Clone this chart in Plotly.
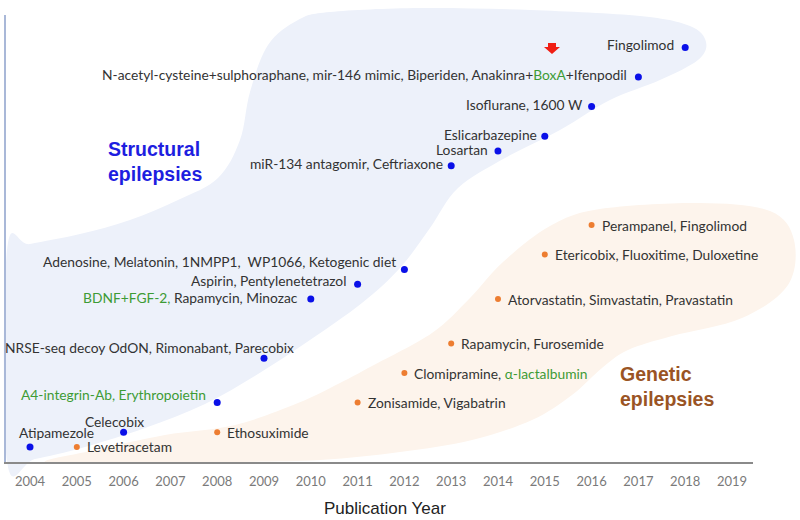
import plotly.graph_objects as go

# ---------------- data ----------------
struct_years = [2004, 2006, 2008, 2009, 2010, 2011, 2012, 2013, 2014, 2015, 2016, 2017, 2018]
struct_levels = [0, 1, 3, 6, 10, 11, 12, 19, 20, 21, 23, 25, 27]
struct_labels = [
    "Atipamezole",
    "Celecobix",
    "<span style='color:#3d9b35'>A4-integrin-Ab, Erythropoietin</span>",
    "NRSE-seq decoy OdON, Rimonabant, Parecobix",
    "<span style='color:#3d9b35'>BDNF+FGF-2,</span> Rapamycin, Minozac",
    "Aspirin, Pentylenetetrazol",
    "Adenosine, Melatonin, 1NMPP1,  WP1066, Ketogenic diet",
    "miR-134 antagomir, Ceftriaxone",
    "Losartan",
    "Eslicarbazepine",
    "Isoflurane, 1600 W",
    "N-acetyl-cysteine+sulphoraphane, mir-146 mimic, Biperiden, Anakinra+<span style='color:#3d9b35'>BoxA</span>+Ifenpodil",
    "Fingolimod",
]

genetic_years = [2005, 2008, 2011, 2012, 2013, 2014, 2015, 2016]
genetic_levels = [0, 1, 3, 5, 7, 10, 13, 15]
genetic_labels = [
    "Levetiracetam",
    "Ethosuximide",
    "Zonisamide, Vigabatrin",
    "Clomipramine, <span style='color:#3d9b35'>\u03b1-lactalbumin</span>",
    "Rapamycin, Furosemide",
    "Atorvastatin, Simvastatin, Pravastatin",
    "Etericobix, Fluoxitime, Duloxetine",
    "Perampanel, Fingolimod",
]

year_ticks = list(range(2004, 2020))

# ---------------- styles / label placement ----------------
struct_label_pos = [  # (xanchor, xshift, yshift)
    ("left", -13, 14),
    ("right", 22, 11),
    ("right", -9, 8),
    ("right", 32, 11),
    ("right", -11, 2),
    ("right", -10, 4),
    ("right", -6, 8),
    ("right", -6, 2),
    ("right", -8, 2),
    ("right", -6, 2),
    ("right", -7, 2),
    ("right", -9, 3),
    ("right", -9, 3),
]

W, H = 800, 520
L, T, R, B = 6, 15, 753, 462
PW, PH = R - L, B - T


def to_paper(px, py):
    return (px - L) / PW, (B - py) / PH


def smooth_path(pts):
    n = len(pts)
    P = [to_paper(*p) for p in pts]
    d = "M %.5f,%.5f" % P[0]
    for i in range(n):
        p0 = P[(i - 1) % n]
        p1 = P[i]
        p2 = P[(i + 1) % n]
        p3 = P[(i + 2) % n]
        c1 = (p1[0] + (p2[0] - p0[0]) / 6, p1[1] + (p2[1] - p0[1]) / 6)
        c2 = (p2[0] - (p3[0] - p1[0]) / 6, p2[1] - (p3[1] - p1[1]) / 6)
        d += " C %.5f,%.5f %.5f,%.5f %.5f,%.5f" % (c1[0], c1[1], c2[0], c2[1], p2[0], p2[1])
    return d + " Z"


blue_blob = [
    (330, 12), (420, 8), (530, 10), (640, 16), (690, 26), (706, 42), (698, 60),
    (660, 80), (610, 100), (560, 130), (505, 158), (458, 188), (430, 228),
    (400, 268), (362, 303), (310, 340), (258, 374), (205, 404), (145, 428),
    (85, 447), (35, 459), (7, 461), (7, 250), (30, 244), (80, 234), (130, 220),
    (178, 200), (218, 178), (240, 140), (250, 92), (268, 45), (298, 20),
]

peach_blob = [
    (550, 226), (600, 209), (700, 203), (770, 211), (794, 240), (788, 285),
    (742, 318), (672, 336), (628, 350), (602, 368), (572, 395), (532, 420),
    (472, 440), (400, 452), (320, 460), (220, 462), (120, 462), (45, 462),
    (95, 450), (165, 435), (235, 425), (298, 403), (340, 383), (372, 366),
    (432, 333), (470, 298), (503, 262),
]

fig = go.Figure()

fig.add_shape(type="path", xref="paper", yref="paper", path=smooth_path(blue_blob),
              fillcolor="#edf1fa", line=dict(width=0), layer="below")
fig.add_shape(type="path", xref="paper", yref="paper", path=smooth_path(peach_blob),
              fillcolor="#fdf4ec", line=dict(width=0), layer="below")

# red arrow pointing at BoxA
arrow_px = [(548, 43), (556, 43), (556, 47), (560, 47), (552, 54), (544, 47), (548, 47)]
ap = [to_paper(*p) for p in arrow_px]
arrow_path = "M " + " L ".join("%.5f,%.5f" % p for p in ap) + " Z"
fig.add_shape(type="path", xref="paper", yref="paper", path=arrow_path,
              fillcolor="#f01e14", line=dict(width=0))

fig.add_trace(go.Scatter(x=struct_years, y=struct_levels, mode="markers",
                         marker=dict(color="#0a10e8", size=7), hoverinfo="skip",
                         showlegend=False))
fig.add_trace(go.Scatter(x=genetic_years, y=genetic_levels, mode="markers",
                         marker=dict(color="#ed7d31", size=6), hoverinfo="skip",
                         showlegend=False))

label_font = dict(family="Lato, 'Open Sans', sans-serif", size=13.8, color="#333333")

for xv, yv, txt, (anc, xs, ys) in zip(struct_years, struct_levels, struct_labels, struct_label_pos):
    fig.add_annotation(x=xv, y=yv, text=txt, showarrow=False, xanchor=anc, yanchor="middle",
                       xshift=xs, yshift=ys, font=label_font)

for xv, yv, txt in zip(genetic_years, genetic_levels, genetic_labels):
    fig.add_annotation(x=xv, y=yv, text=txt, showarrow=False, xanchor="left", yanchor="middle",
                       xshift=8, yshift=0, font=label_font)

fig.add_annotation(x=2006.67, y=19.3, text="<b>Structural<br>epilepsies</b>", showarrow=False,
                   xanchor="center", yanchor="middle", align="left",
                   font=dict(family="Liberation Sans, Arial, sans-serif", size=19.5, color="#1e1ee0"))
fig.add_annotation(x=2017.61, y=4.1, text="<b>Genetic<br>epilepsies</b>", showarrow=False,
                   xanchor="center", yanchor="middle", align="left",
                   font=dict(family="Liberation Sans, Arial, sans-serif", size=19.5, color="#9a5424"))

tx, ty = to_paper(385, 508)
fig.add_annotation(x=tx, y=ty, xref="paper", yref="paper", text="Publication Year",
                   showarrow=False, xanchor="center", yanchor="middle",
                   font=dict(family="Liberation Sans, Arial, sans-serif", size=17, color="#222222"))

fig.update_xaxes(range=[2003.487, 2019.449], tickvals=year_ticks,
                 ticktext=[str(y) for y in year_ticks],
                 showgrid=False, zeroline=False, showline=True, linecolor="#8a8a8a", linewidth=2,
                 ticks="outside", ticklen=6, tickcolor="rgba(0,0,0,0)",
                 tickfont=dict(family="Lato, 'Open Sans', sans-serif", size=13, color="#7a7a7a"))
fig.update_yaxes(range=[-1.014, 29.19], showticklabels=False, showgrid=False, zeroline=False,
                 showline=True, linecolor="#a9b8d8", linewidth=2, ticks="")

fig.update_layout(width=W, height=H, autosize=False,
                  margin=dict(l=L, r=W - R, t=T, b=H - B, autoexpand=False),
                  paper_bgcolor="white", plot_bgcolor="rgba(0,0,0,0)",
                  showlegend=False)

fig.write_html("out.html", config={"displayModeBar": False, "staticPlot": True},
               post_script="document.body.style.margin='0';document.body.style.padding='0';"
                           "document.documentElement.style.overflow='hidden';")
